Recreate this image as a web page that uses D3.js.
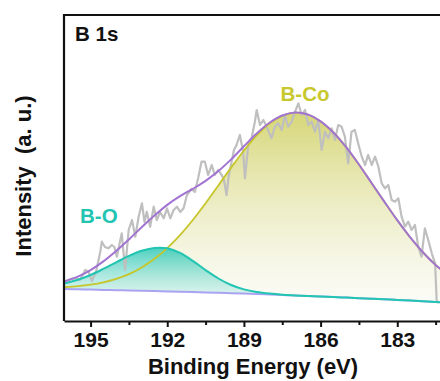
<!DOCTYPE html>
<html>
<head>
<meta charset="utf-8">
<script src="https://cdn.jsdelivr.net/npm/d3@7"></script>
<style>
    body { margin: 0; background: #fff; }
    text { font-family: Arial, "Liberation Sans", sans-serif; font-weight: bold; }
</style>
</head>
<body>
<div id="chart"></div>
<script>
// fitted curves, every 0.5 eV
const fitEnergy = [196.0, 195.5, 195.0, 194.5, 194.0, 193.5, 193.0, 192.5, 192.0, 191.5, 191.0,
    190.5, 190.0, 189.5, 189.0, 188.5, 188.0, 187.5, 187.0, 186.5, 186.0,
    185.5, 185.0, 184.5, 184.0, 183.5, 183.0, 182.5, 182.0, 181.5, 181.0];
const baseline = [320, 317, 314, 311, 308, 305, 302, 299, 295, 292, 289,
    285, 282, 278, 274, 271, 266, 260, 255, 250, 244,
    239, 234, 228, 222, 217, 211, 204, 197, 190, 186];
// peak heights above the background
const boPeak = [58, 95, 146, 210, 279, 347, 401, 432, 432, 389, 312,
    224, 143, 82, 42, 19, 8, 3, 1, 0, 0,
    0, 0, 0, 0, 0, 0, 0, 0, 0, 0];
const bcoPeak = [19, 31, 49, 75, 113, 164, 234, 323, 434, 567, 721,
    892, 1074, 1256, 1431, 1586, 1709, 1792, 1829, 1815, 1752,
    1646, 1504, 1337, 1156, 974, 797, 634, 491, 371, 272];

// measured spectrum
const rawEnergy = [195.94, 195.77, 195.60, 195.42, 195.21, 195.08, 194.95, 194.79, 194.62, 194.56,
    194.44, 194.30, 194.17, 194.07, 193.97, 193.87, 193.78, 193.65, 193.51, 193.38,
    193.25, 193.12, 192.99, 192.89, 192.80, 192.67, 192.53, 192.41, 192.28, 192.14,
    192.01, 191.88, 191.75, 191.62, 191.49, 191.36, 191.23, 191.05, 190.92, 190.79,
    190.66, 190.53, 190.40, 190.26, 190.14, 190.01, 189.87, 189.78, 189.68, 189.59,
    189.48, 189.39, 189.29, 189.16, 189.03, 188.96, 188.83, 188.70, 188.57, 188.50,
    188.37, 188.24, 188.11, 187.92, 187.79, 187.66, 187.52, 187.40, 187.27, 187.13,
    187.00, 186.87, 186.74, 186.61, 186.48, 186.35, 186.22, 186.09, 185.96, 185.83,
    185.70, 185.57, 185.44, 185.31, 185.18, 185.05, 184.92, 184.79, 184.66, 184.53,
    184.39, 184.26, 184.14, 184.00, 183.87, 183.74, 183.61, 183.48, 183.35, 183.22,
    183.09, 182.96, 182.83, 182.70, 182.57, 182.44, 182.31, 182.18, 182.05, 181.92,
    181.79, 181.65, 181.52, 181.46, 181.40];
const rawCounts = [400, 420, 427, 410, 510, 493, 400, 490, 693, 793,
    740, 727, 760, 740, 643, 770, 877, 510, 910, 1010,
    843, 1043, 1177, 990, 1093, 943, 1143, 1010, 1090, 1027,
    1127, 1027, 1110, 1143, 1090, 1127, 1260, 1320, 1290, 1430,
    1593, 1593, 1460, 1560, 1460, 1510, 1460, 1410, 1260, 1460,
    1593, 1710, 1760, 1860, 1693, 1427, 1760, 1830, 1993, 2110,
    1960, 2010, 1943, 1827, 1943, 1977, 1910, 2060, 1943, 1993,
    2093, 2177, 2060, 2110, 1960, 1993, 1893, 2010, 1710, 1893,
    1827, 1927, 1810, 1960, 1943, 1843, 1577, 1893, 1910, 1777,
    1643, 1560, 1660, 1560, 1643, 1543, 1377, 1327, 1360, 1210,
    1193, 1227, 1043, 943, 993, 910, 960, 743, 643, 927,
    810, 677, 577, 210, 180];

const xTicks = [195, 192, 189, 186, 183];
const xMinorTicks = [193.5, 190.5, 187.5, 184.5, 181.5];

const width = 440, height = 381;
const plot = { left: 64, right: 442, top: 15, bottom: 321 };

let svg = d3.select("#chart")
    .append("svg")
    .attr("width", width)
    .attr("height", height);

let x = d3.scaleLinear().domain([196.04, 181.25]).range([plot.left, plot.right]);
let y = d3.scaleLinear().domain([0, 3060]).range([plot.bottom, plot.top]);

// build the fit table from the arrays
let fit = fitEnergy.map(function (e, i) {
    return {
        e: e,
        bg: baseline[i],
        bo: baseline[i] + boPeak[i],
        bco: baseline[i] + bcoPeak[i],
        env: baseline[i] + boPeak[i] + bcoPeak[i]
    };
});
let raw = rawEnergy.map((e, i) => ({ e: e, v: rawCounts[i] }));

let defs = svg.append("defs");
defs.append("clipPath").attr("id", "clip")
    .append("rect")
    .attr("x", plot.left).attr("y", plot.top)
    .attr("width", plot.right - plot.left).attr("height", plot.bottom - plot.top);

function grad(id, top, bottom) {
    let g = defs.append("linearGradient").attr("id", id)
        .attr("x1", 0).attr("y1", 0).attr("x2", 0).attr("y2", 1);
    g.append("stop").attr("offset", "0%").attr("stop-color", top[0]).attr("stop-opacity", top[1]);
    g.append("stop").attr("offset", "100%").attr("stop-color", bottom[0]).attr("stop-opacity", bottom[1]);
}
grad("gradCo", ["#cccc55", 0.8], ["#f4f4e6", 0.35]);
grad("gradO", ["#2ec8b4", 0.85], ["#d8f3ef", 0.5]);

let g = svg.append("g").attr("clip-path", "url(#clip)");

let area = key => d3.area()
    .x(d => x(d.e))
    .y0(d => y(d.bg))
    .y1(d => y(d[key]))
    .curve(d3.curveCatmullRom);
let line = key => d3.line()
    .x(d => x(d.e))
    .y(d => y(d[key]))
    .curve(d3.curveCatmullRom);

g.append("path").datum(fit).attr("d", area("bco")).attr("fill", "url(#gradCo)");
g.append("path").datum(fit).attr("d", area("bo")).attr("fill", "url(#gradO)");

// raw spectrum
g.append("path").datum(raw)
    .attr("d", d3.line().x(d => x(d.e)).y(d => y(d.v)))
    .attr("fill", "none")
    .attr("stroke", "#bfbfbf")
    .attr("stroke-width", 2.2)
    .attr("stroke-linejoin", "round");

g.append("path").datum(fit).attr("d", line("bg"))
    .attr("fill", "none").attr("stroke", "#aaa3f2").attr("stroke-width", 2);
g.append("path").datum(fit).attr("d", line("bco"))
    .attr("fill", "none").attr("stroke", "#c6c62a").attr("stroke-width", 1.8);
g.append("path").datum(fit).attr("d", line("bo"))
    .attr("fill", "none").attr("stroke", "#22c4b2").attr("stroke-width", 2);
g.append("path").datum(fit).attr("d", line("env"))
    .attr("fill", "none").attr("stroke", "#a274d2").attr("stroke-width", 2);

// frame
svg.append("path")
    .attr("d", `M${plot.right + 5},${plot.top}H${plot.left}V${plot.bottom}`)
    .attr("fill", "none")
    .attr("stroke", "#111")
    .attr("stroke-width", 2.2);

let xAxis = svg.append("g")
    .attr("transform", `translate(0, ${plot.bottom})`)
    .call(d3.axisBottom(x).tickValues(xTicks).tickSize(6).tickPadding(5).tickSizeOuter(0));
xAxis.select(".domain").attr("stroke", "#111").attr("stroke-width", 2.2);
xAxis.selectAll(".tick line").attr("stroke", "#111").attr("stroke-width", 2);
xAxis.selectAll(".tick text")
    .attr("fill", "#111")
    .style("font-size", "21px");

svg.append("g")
    .attr("transform", `translate(0, ${plot.bottom})`)
    .call(d3.axisBottom(x).tickValues(xMinorTicks).tickSize(4).tickFormat(""))
    .call(a => a.select(".domain").remove())
    .selectAll(".tick line").attr("stroke", "#111").attr("stroke-width", 2);

// axis titles
svg.append("text")
    .attr("x", 253).attr("y", 374)
    .attr("text-anchor", "middle")
    .style("font-size", "22px")
    .attr("fill", "#111")
    .text("Binding Energy (eV)");

svg.append("text")
    .attr("transform", "translate(31, 176) rotate(-90)")
    .attr("text-anchor", "middle")
    .style("font-size", "22px")
    .attr("fill", "#111")
    .style("white-space", "pre")
    .text("Intensity  (a. u.)");

// labels
svg.append("text")
    .attr("x", 75).attr("y", 40.5)
    .style("font-size", "20.5px")
    .attr("fill", "#111")
    .text("B 1s");

svg.append("text")
    .attr("x", 305).attr("y", 101)
    .attr("text-anchor", "middle")
    .style("font-size", "20.5px")
    .attr("fill", "#c8c82e")
    .text("B-Co");

svg.append("text")
    .attr("x", 80).attr("y", 223)
    .style("font-size", "20.5px")
    .attr("fill", "#22c4b2")
    .text("B-O");
</script>
</body>
</html>
